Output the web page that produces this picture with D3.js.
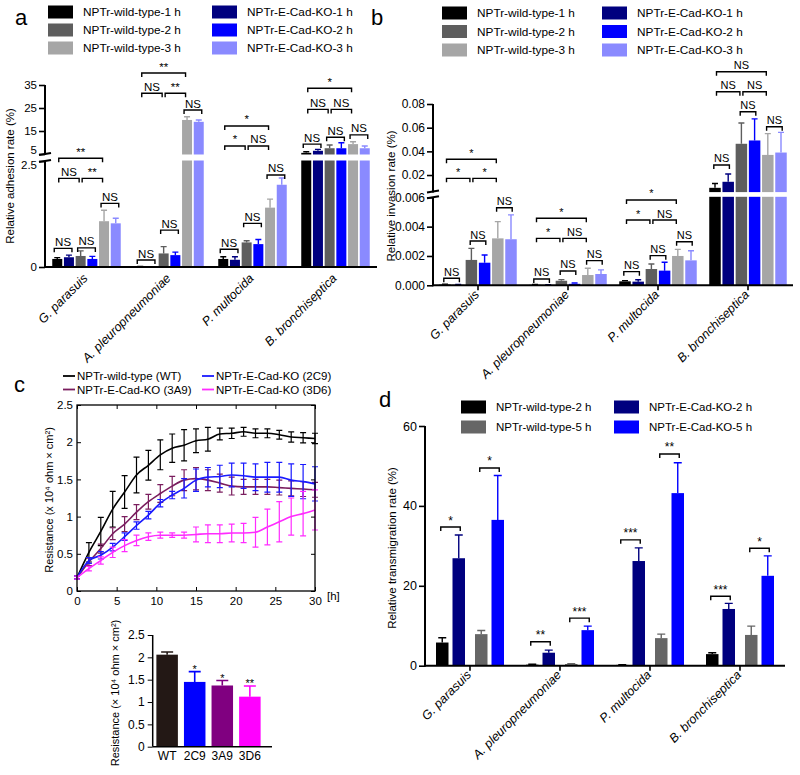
<!DOCTYPE html>
<html>
<head>
<meta charset="utf-8">
<script src="https://d3js.org/d3.v7.min.js"></script>
<style>
body { margin: 0; background: #fff; }
svg { font-family: Arial, "Liberation Sans", Helvetica, sans-serif; }
</style>
</head>
<body>
<div id="fig"></div>
<script>
var bacteria = ["G. parasuis", "A. pleuropneumoniae", "P. multocida", "B. bronchiseptica"];

// panels a and b: bar order inside every group
var hourSeries = ["NPTr-wild-type-1 h", "NPTr-E-Cad-KO-1 h", "NPTr-wild-type-2 h", "NPTr-E-Cad-KO-2 h", "NPTr-wild-type-3 h", "NPTr-E-Cad-KO-3 h"];
var hourColors = ["#000000", "#00007f", "#5e5e5e", "#0000ff", "#a6a6a6", "#8a8aff"];

var adhesionMean = [
	[0.19, 0.23, 0.26, 0.19, 1.08, 1.03],
	[0.01, 0.005, 0.32, 0.28, 19.8, 19.0],
	[0.19, 0.17, 0.58, 0.54, 1.4, 1.94],
	[5.5, 6.4, 7.5, 7.5, 9.3, 7.5]
];
var adhesionSd = [
	[0.03, 0.05, 0.12, 0.06, 0.26, 0.12],
	[0.005, 0.005, 0.16, 0.07, 1.4, 0.8],
	[0.05, 0.07, 0.04, 0.11, 0.2, 0.16],
	[0.5, 0.6, 1.4, 2.4, 1.0, 1.0]
];
var adhesionTicks = [0, 2.5, 5, 15, 25, 35];
// [group, from bar, to bar, level, label]
var adhesionSig = [
	[0, 0, 1, 0.44, "NS"], [0, 2, 3, 0.45, "NS"], [0, 4, 5, 1.5, "NS"],
	[0, 0, 2, 2.09, "NS"], [0, 2, 4, 2.09, "**"], [0, 0, 4, 3.46, "**"],
	[1, 0, 1, 0.165, "NS"], [1, 2, 3, 0.87, "NS"], [1, 4, 5, 24.1, "NS"],
	[1, 0, 2, 31.4, "NS"], [1, 2, 4, 31.4, "**"], [1, 0, 4, 40.2, "**"],
	[2, 0, 1, 0.42, "NS"], [2, 2, 3, 1.03, "NS"], [2, 4, 5, 2.17, "NS"],
	[2, 0, 2, 8.5, "*"], [2, 2, 4, 8.5, "NS"], [2, 0, 4, 17.2, "*"],
	[3, 0, 1, 9.3, "NS"], [3, 2, 3, 12.3, "NS"], [3, 4, 5, 13.3, "NS"],
	[3, 0, 2, 24.4, "NS"], [3, 2, 4, 24.4, "NS"], [3, 0, 4, 33.6, "*"]
];

var invasionMean = [
	[0.00005, 0.00003, 0.00173, 0.00154, 0.0032, 0.00314],
	[0.00003, 0.00002, 0.00031, 0.0001, 0.0007, 0.00077],
	[0.00027, 0.00025, 0.00111, 0.001, 0.002, 0.0017],
	[0.0092, 0.0143, 0.0464, 0.0492, 0.037, 0.039]
];
var invasionSd = [
	[0.00003, 0.00003, 0.00079, 0.00053, 0.00114, 0.00166],
	[0.00002, 0.00002, 0.00008, 0.00006, 0.00046, 0.00028],
	[0.00005, 0.00013, 0.00034, 0.00057, 0.00045, 0.00066],
	[0.0037, 0.0066, 0.0176, 0.0182, 0.018, 0.017]
];
var invasionTicks = [0, 0.002, 0.004, 0.006, 0.02, 0.04, 0.06, 0.08];
var invasionSig = [
	[0, 0, 1, 0.00048, "NS"], [0, 2, 3, 0.00302, "NS"], [0, 4, 5, 0.00529, "NS"],
	[0, 0, 2, 0.0172, "*"], [0, 2, 4, 0.0172, "*"], [0, 0, 4, 0.0333, "*"],
	[1, 0, 1, 0.00043, "NS"], [1, 2, 3, 0.00098, "NS"], [1, 4, 5, 0.00168, "NS"],
	[1, 0, 2, 0.0032, "*"], [1, 2, 4, 0.0032, "NS"], [1, 0, 4, 0.00457, "*"],
	[2, 0, 1, 0.00093, "NS"], [2, 2, 3, 0.00202, "NS"], [2, 4, 5, 0.00297, "NS"],
	[2, 0, 2, 0.00445, "*"], [2, 2, 4, 0.00445, "NS"], [2, 0, 4, 0.00582, "*"],
	[3, 0, 1, 0.0285, "NS"], [3, 2, 3, 0.0735, "NS"], [3, 4, 5, 0.0608, "NS"],
	[3, 0, 2, 0.0904, "NS"], [3, 2, 4, 0.0904, "NS"], [3, 0, 4, 0.1073, "NS"]
];

// panel c: resistance over time
var hours = [0, 1.5, 3, 4.5, 6, 7.5, 9, 10.5, 12, 13.5, 15, 16.5, 18, 19.5, 21, 22.5, 24, 25.5, 27, 28.5, 30];
var hourTicks = [0, 5, 10, 15, 20, 25, 30];
var teerNames = ["NPTr-wild-type (WT)", "NPTr-E-Cad-KO (2C9)", "NPTr-E-Cad-KO (3A9)", "NPTr-E-Cad-KO (3D6)"];
var teerColors = ["#000000", "#1a1aff", "#7a1d5e", "#ff2cff"];
var teerWT = [0.18, 0.52, 0.8, 1.1, 1.33, 1.56, 1.69, 1.83, 1.92, 1.96, 2.02, 2.04, 2.11, 2.12, 2.14, 2.12, 2.12, 2.1, 2.07, 2.06, 2.05];
var teerWTSd = [0.02, 0.13, 0.19, 0.24, 0.22, 0.24, 0.2, 0.2, 0.19, 0.21, 0.16, 0.16, 0.08, 0.07, 0.06, 0.06, 0.06, 0.06, 0.07, 0.07, 0.07];
var teer2C9 = [0.18, 0.41, 0.48, 0.59, 0.73, 0.88, 1.02, 1.18, 1.29, 1.38, 1.49, 1.53, 1.54, 1.56, 1.55, 1.53, 1.53, 1.53, 1.49, 1.47, 1.44];
var teer2C9Sd = [0.02, 0.04, 0.05, 0.05, 0.05, 0.05, 0.05, 0.05, 0.05, 0.13, 0.15, 0.13, 0.15, 0.16, 0.17, 0.18, 0.2, 0.2, 0.22, 0.23, 0.23];
var teer3A9 = [0.18, 0.39, 0.57, 0.77, 0.9, 1.06, 1.2, 1.31, 1.41, 1.49, 1.51, 1.49, 1.45, 1.41, 1.4, 1.4, 1.4, 1.39, 1.38, 1.37, 1.36];
var teer3A9Sd = [0.02, 0.05, 0.06, 0.08, 0.1, 0.1, 0.1, 0.12, 0.13, 0.14, 0.15, 0.14, 0.12, 0.12, 0.1, 0.1, 0.1, 0.1, 0.1, 0.1, 0.1];
var teer3D6 = [0.18, 0.3, 0.41, 0.52, 0.61, 0.68, 0.73, 0.75, 0.75, 0.75, 0.76, 0.77, 0.77, 0.78, 0.78, 0.79, 0.86, 0.93, 1.0, 1.04, 1.09];
var teer3D6Sd = [0.02, 0.03, 0.05, 0.07, 0.08, 0.07, 0.05, 0.04, 0.03, 0.04, 0.1, 0.12, 0.12, 0.12, 0.13, 0.2, 0.24, 0.27, 0.25, 0.3, 0.27];

// panel c inset: resistance at the end
var clones = ["WT", "2C9", "3A9", "3D6"];
var cloneColors = ["#231815", "#0000ff", "#800080", "#ff00ff"];
var cloneMean = [2.06, 1.45, 1.37, 1.12];
var cloneSd = [0.06, 0.23, 0.11, 0.24];
var cloneSig = ["", "*", "*", "**"];

// panel d
var transSeries = ["NPTr-wild-type-2 h", "NPTr-E-Cad-KO-2 h", "NPTr-wild-type-5 h", "NPTr-E-Cad-KO-5 h"];
var transColors = ["#000000", "#00007f", "#666666", "#0000ff"];
var transMean = [
	[5.8, 26.9, 7.9, 36.5],
	[0.25, 3.25, 0.42, 8.9],
	[0.2, 26.2, 6.9, 43.2],
	[2.9, 14.2, 7.7, 22.5]
];
var transSd = [
	[1.2, 5.8, 0.9, 11.1],
	[0.1, 0.65, 0.1, 1.0],
	[0.05, 3.3, 1.0, 7.6],
	[0.35, 1.4, 2.2, 5.0]
];
var transTicks = [0, 20, 40, 60];
var transSig = [
	[0, 0, 1, 34.7, "*"], [0, 2, 3, 49.5, "*"],
	[1, 0, 1, 6.0, "**"], [1, 2, 3, 11.9, "***"],
	[2, 0, 1, 31.5, "***"], [2, 2, 3, 53, "**"],
	[3, 0, 1, 17.4, "***"], [3, 2, 3, 29.4, "*"]
];

var svg = d3.select("#fig").append("svg")
	.attr("width", 800)
	.attr("height", 775);

function panelLetter(t, x, y) {
	svg.append("text").attr("x", x).attr("y", y).attr("font-size", 22).text(t);
}

function swatchLegend(items, colors, pos, size) {
	items.forEach(function(name, i) {
		var p = pos[i];
		svg.append("rect").attr("x", p[0]).attr("y", p[1] - 6.5).attr("width", 25).attr("height", 13).attr("fill", colors[i]);
		svg.append("text").attr("x", p[0] + 35).attr("y", p[1] + 4).attr("font-size", size).text(name);
	});
}

function yLabel(t, x, y, size) {
	svg.append("text")
		.attr("transform", "translate(" + x + "," + y + ") rotate(-90)")
		.attr("text-anchor", "middle")
		.attr("dy", "0.35em")
		.attr("font-size", size)
		.text(t);
}

function barPanel(o) {
	var g = svg.append("g");
	var x = d3.scaleBand().domain(bacteria).range(o.xRange);
	var y = d3.scaleLinear().domain(o.yDomain).range(o.yRange);
	var cx = function(gi, i) { return x(bacteria[gi]) + x.bandwidth() / 2 + o.offset(i); };

	var flat = [];
	o.mean.forEach(function(row, gi) {
		row.forEach(function(v, i) { flat.push({g: gi, i: i, v: v, sd: o.sd[gi][i]}); });
	});

	g.selectAll(".bar").data(flat).enter().append("rect")
		.attr("class", "bar")
		.attr("x", function(d) { return cx(d.g, d.i) - o.barW / 2; })
		.attr("y", function(d) { return y(d.v); })
		.attr("width", o.barW)
		.attr("height", function(d) { return y(0) - y(d.v); })
		.attr("fill", function(d) { return o.colors[d.i]; });

	g.selectAll(".err").data(flat).enter().append("path")
		.attr("class", "err")
		.attr("d", function(d) {
			var xc = cx(d.g, d.i), y1 = y(d.v), y2 = y(d.v + d.sd);
			return "M" + xc + "," + y1 + "V" + y2 + "M" + (xc - o.capW / 2) + "," + y2 + "H" + (xc + o.capW / 2);
		})
		.attr("fill", "none")
		.attr("stroke", function(d) { return o.colors[d.i]; })
		.attr("stroke-width", 1.4);

	// white band that splits the bars at the axis break
	if (o.gap) {
		g.append("rect")
			.attr("x", o.xRange[0] + 1)
			.attr("y", y(o.gap[1]) + 0.5)
			.attr("width", o.xRange[1] - o.xRange[0])
			.attr("height", y(o.gap[0]) - y(o.gap[1]) - 1)
			.attr("fill", "#fff");
	}

	var br = g.selectAll(".sig").data(o.sig).enter().append("g");
	function ends(d) {
		var pad = (d[2] - d[1] == 1) ? o.pairPad : -1.5;
		return [cx(d[0], d[1]) - pad, cx(d[0], d[2]) + pad];
	}
	br.append("path")
		.attr("d", function(d) {
			var e = ends(d), yy = y(d[3]);
			return "M" + e[0] + "," + (yy + 4) + "V" + yy + "H" + e[1] + "V" + (yy + 4);
		})
		.attr("fill", "none")
		.attr("stroke", "#000")
		.attr("stroke-width", 1.4);
	br.append("text")
		.attr("x", function(d) { var e = ends(d); return (e[0] + e[1]) / 2; })
		.attr("y", function(d) { return y(d[3]) - 2.5; })
		.attr("text-anchor", "middle")
		.attr("font-size", o.sigSize)
		.text(function(d) { return d[4]; });

	// axes
	var x0 = o.xRange[0];
	g.append("line").attr("x1", x0).attr("x2", o.xRange[1]).attr("y1", y(0)).attr("y2", y(0))
		.attr("stroke", "#000").attr("stroke-width", 2);
	o.segments.forEach(function(s) {
		g.append("line").attr("x1", x0).attr("x2", x0).attr("y1", y(s[0]) + 1).attr("y2", y(s[1]))
			.attr("stroke", "#000").attr("stroke-width", 2);
	});
	if (o.gap) {
		o.gap.forEach(function(v) {
			g.append("line").attr("x1", x0 - 6).attr("x2", x0 + 6).attr("y1", y(v) + 1).attr("y2", y(v) - 1)
				.attr("stroke", "#000").attr("stroke-width", 2);
		});
	}
	var ya = g.append("g").attr("transform", "translate(" + x0 + ",0)")
		.call(d3.axisLeft(y).tickValues(o.ticks).tickSize(6).tickPadding(2).tickFormat(o.tickFormat));
	ya.select(".domain").remove();
	ya.selectAll(".tick line").attr("stroke-width", 1.6);
	ya.selectAll(".tick text").attr("font-size", o.tickSize).attr("font-family", null);
	if (o.tickDy) ya.selectAll(".tick text").attr("dy", function(d) { return o.tickDy[d] !== undefined ? o.tickDy[d] : "0.32em"; });

	if (o.xTicks) {
		g.selectAll(".xt").data(bacteria).enter().append("line")
			.attr("x1", function(d) { return x(d) + x.bandwidth() / 2; })
			.attr("x2", function(d) { return x(d) + x.bandwidth() / 2; })
			.attr("y1", y(0)).attr("y2", y(0) + 5)
			.attr("stroke", "#000").attr("stroke-width", 1.6);
	}
	g.selectAll(".xl").data(bacteria).enter().append("text")
		.attr("transform", function(d) {
			return "translate(" + (x(d) + x.bandwidth() / 2 + o.labelOff[0]) + "," + (y(0) + o.labelOff[1]) + ") rotate(-45)";
		})
		.attr("text-anchor", "end")
		.attr("font-size", 12.5)
		.attr("font-style", "italic")
		.text(function(d) { return d; });
	return {x: x, y: y};
}

// ---------- panel a ----------
panelLetter("a", 15, 25);
swatchLegend(hourSeries, hourColors, [[48, 12], [212, 12], [48, 30], [212, 30], [48, 48], [212, 48]], 11.8);
barPanel({
	mean: adhesionMean, sd: adhesionSd, colors: hourColors, sig: adhesionSig,
	xRange: [45, 377], yDomain: [0, 2.5, 5, 35], yRange: [267, 161, 154, 85],
	offset: d3.scalePoint().domain(d3.range(6)).range([-29.25, 29.25]),
	barW: 10, capW: 6, pairPad: 3, sigSize: 11.5,
	gap: [2.5, 5], segments: [[0, 2.5], [5, 35]],
	ticks: adhesionTicks, tickFormat: d3.format("~g"), tickSize: 11.5,
	tickDy: {5: "-0.02em", 2.5: "0.66em"},
	labelOff: [2, 12], xTicks: false
});
yLabel("Relative adhesion rate (%)", 10, 176, 11.5);

// ---------- panel b ----------
panelLetter("b", 371, 25);
swatchLegend(hourSeries, hourColors, [[442, 13], [602, 13], [442, 31.5], [602, 31.5], [442, 50], [602, 50]], 11.8);
barPanel({
	mean: invasionMean, sd: invasionSd, colors: hourColors, sig: invasionSig,
	xRange: [433, 793], yDomain: [0, 0.006, 0.00601, 0.08], yRange: [285.3, 197.3, 191.6, 104],
	offset: d3.scalePoint().domain(d3.range(6)).range([-33, 33]),
	barW: 11.5, capW: 6, pairPad: 1.2, sigSize: 11,
	gap: [0.006, 0.00601], segments: [[0, 0.006], [0.00601, 0.08]],
	ticks: invasionTicks,
	tickFormat: function(d) { return d < 0.01 ? d3.format(".3f")(d) : d3.format(".2f")(d); },
	tickSize: 12, labelOff: [2, 10], xTicks: true
});
yLabel("Relative invasion rate (%)", 391, 196, 11.5);

// ---------- panel c ----------
panelLetter("c", 14, 392);
var teer = [
	{name: teerNames[0], color: teerColors[0], mean: teerWT, sd: teerWTSd},
	{name: teerNames[2], color: teerColors[2], mean: teer3A9, sd: teer3A9Sd},
	{name: teerNames[1], color: teerColors[1], mean: teer2C9, sd: teer2C9Sd},
	{name: teerNames[3], color: teerColors[3], mean: teer3D6, sd: teer3D6Sd}
];
var legendC = [[63, 376], [202, 376], [63, 389.5], [202, 389.5]];
teerNames.forEach(function(name, i) {
	var p = legendC[i];
	svg.append("line").attr("x1", p[0]).attr("x2", p[0] + 12).attr("y1", p[1]).attr("y2", p[1])
		.attr("stroke", teerColors[i]).attr("stroke-width", 1.8);
	svg.append("text").attr("x", p[0] + 14).attr("y", p[1] + 4).attr("font-size", 11.5).text(name);
});

var xc = d3.scaleLinear().domain([0, 30]).range([77, 315]);
var yc = d3.scaleLinear().domain([0, 2.5]).range([591, 405]);
var gc = svg.append("g");
var line = d3.line()
	.x(function(d) { return xc(d.h); })
	.y(function(d) { return yc(d.v); })
	.curve(d3.curveMonotoneX);

teer.forEach(function(s) {
	var pts = hours.map(function(h, i) { return {h: h, v: s.mean[i], sd: s.sd[i]}; });
	gc.append("path").datum(pts).attr("d", line)
		.attr("fill", "none").attr("stroke", s.color).attr("stroke-width", 1.6);
	gc.selectAll(null).data(pts).enter().append("path")
		.attr("d", function(d) {
			var px = xc(d.h), t = yc(d.v + d.sd), b = yc(d.v - d.sd);
			return "M" + (px - 3) + "," + t + "H" + (px + 3) + "M" + px + "," + t + "V" + b + "M" + (px - 3) + "," + b + "H" + (px + 3);
		})
		.attr("fill", "none").attr("stroke", s.color).attr("stroke-width", 1.2);
});

gc.append("rect").attr("x", 77).attr("y", 405).attr("width", 238).attr("height", 186)
	.attr("fill", "none").attr("stroke", "#000").attr("stroke-width", 1.3);

function frameAxis(axis, tr, labels) {
	var a = gc.append("g").attr("transform", tr).call(axis);
	a.select(".domain").remove();
	a.selectAll(".tick text").attr("font-size", 11.5).attr("font-family", null);
	if (!labels) a.selectAll(".tick text").remove();
}
var yTicksC = [0, 0.5, 1, 1.5, 2, 2.5];
frameAxis(d3.axisBottom(xc).tickValues(hourTicks).tickSize(-4).tickPadding(6), "translate(0,591)", true);
frameAxis(d3.axisTop(xc).tickValues(hourTicks).tickSize(-4), "translate(0,405)", false);
frameAxis(d3.axisLeft(yc).tickValues(yTicksC).tickSize(-4).tickPadding(4).tickFormat(d3.format("~g")), "translate(77,0)", true);
frameAxis(d3.axisRight(yc).tickValues(yTicksC).tickSize(-4), "translate(315,0)", false);
svg.append("text").attr("x", 327).attr("y", 600).attr("font-size", 11.5).text("[h]");
yLabel("Resistance (x 10\u2074 ohm \u00d7 cm\u00b2)", 49, 500, 11);

// inset bars
var xi = d3.scaleBand().domain(clones).range([155, 262]).paddingInner(0.22).paddingOuter(0.05);
var yi = d3.scaleLinear().domain([0, 2.5]).range([746.7, 635]);
var gi = svg.append("g");
gi.selectAll("rect").data(clones).enter().append("rect")
	.attr("x", function(d) { return xi(d); })
	.attr("y", function(d, i) { return yi(cloneMean[i]); })
	.attr("width", xi.bandwidth())
	.attr("height", function(d, i) { return yi(0) - yi(cloneMean[i]); })
	.attr("fill", function(d, i) { return cloneColors[i]; });
gi.selectAll(".ie").data(clones).enter().append("path")
	.attr("d", function(d, i) {
		var px = xi(d) + xi.bandwidth() / 2, t = yi(cloneMean[i] + cloneSd[i]);
		return "M" + px + "," + yi(cloneMean[i]) + "V" + t + "M" + (px - 6) + "," + t + "H" + (px + 6);
	})
	.attr("fill", "none")
	.attr("stroke", function(d, i) { return cloneColors[i]; })
	.attr("stroke-width", 1.6);
gi.selectAll(".is").data(clones).enter().append("text")
	.attr("x", function(d) { return xi(d) + xi.bandwidth() / 2; })
	.attr("y", function(d, i) { return yi(cloneMean[i] + cloneSd[i]) + 1; })
	.attr("text-anchor", "middle")
	.attr("font-size", 11)
	.text(function(d, i) { return cloneSig[i]; });
gi.append("line").attr("x1", 152.7).attr("x2", 272).attr("y1", yi(0)).attr("y2", yi(0))
	.attr("stroke", "#000").attr("stroke-width", 1.5);
gi.append("line").attr("x1", 152.7).attr("x2", 152.7).attr("y1", yi(0)).attr("y2", yi(2.5))
	.attr("stroke", "#000").attr("stroke-width", 1.5);
var yia = gi.append("g").attr("transform", "translate(152.7,0)")
	.call(d3.axisLeft(yi).tickValues(yTicksC).tickSize(5).tickPadding(3).tickFormat(d3.format("~g")));
yia.select(".domain").remove();
yia.selectAll(".tick text").attr("font-size", 12).attr("font-family", null);
var xia = gi.append("g").attr("transform", "translate(0," + yi(0) + ")")
	.call(d3.axisBottom(xi).tickSize(0).tickPadding(5));
xia.select(".domain").remove();
xia.selectAll(".tick text").attr("font-size", 12).attr("font-family", null);
yLabel("Resistance (\u00d7 10\u2074 ohm \u00d7 cm\u00b2)", 115, 693, 11);

// ---------- panel d ----------
panelLetter("d", 379, 407);
swatchLegend(transSeries, transColors, [[461, 407], [614, 407], [461, 427], [614, 427]], 11.5);
var pairPos = d3.scalePoint().domain([0, 1]).range([-19.5, 19.5]);
var subPos = d3.scalePoint().domain([0, 1]).range([-8.25, 8.25]);
barPanel({
	mean: transMean, sd: transSd, colors: transColors, sig: transSig,
	xRange: [425, 785], yDomain: [0, 60], yRange: [665.7, 426],
	offset: function(i) { return pairPos(Math.floor(i / 2)) + subPos(i % 2); },
	barW: 12.5, capW: 8, pairPad: 1.5, sigSize: 12,
	gap: null, segments: [[0, 60]],
	ticks: transTicks, tickFormat: d3.format("d"), tickSize: 12.5,
	labelOff: [2, 10], xTicks: true
});
yLabel("Relative transmigration rate (%)", 392, 548, 11.5);
</script>
</body>
</html>
